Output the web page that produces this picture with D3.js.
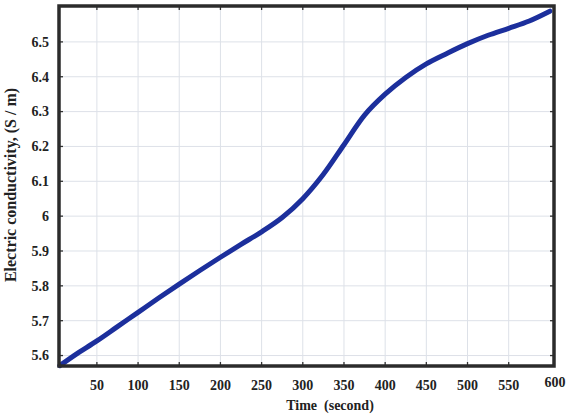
<!DOCTYPE html>
<html>
<head>
<meta charset="utf-8">
<script src="https://cdn.jsdelivr.net/npm/d3@7"></script>
<style>
html,body{margin:0;padding:0;background:#fff;}
svg{display:block;}
</style>
</head>
<body>
<svg id="chart" width="568" height="418"></svg>
<script>
const timeValues = [5, 25, 50, 75, 100, 125, 150, 175, 200, 225, 250, 275, 300, 325, 350, 375, 400, 425, 450, 475, 500, 525, 550, 575, 600];
const conductivity = [5.571, 5.604, 5.642, 5.683, 5.724, 5.765, 5.805, 5.844, 5.882, 5.919, 5.955, 5.996, 6.050, 6.120, 6.205, 6.290, 6.350, 6.398, 6.437, 6.467, 6.495, 6.519, 6.539, 6.560, 6.588];
const xTicks = [50, 100, 150, 200, 250, 300, 350, 400, 450, 500, 550, 600];
const yTicks = [5.6, 5.7, 5.8, 5.9, 6.0, 6.1, 6.2, 6.3, 6.4, 6.5];
const yTickLabels = ["5.6", "5.7", "5.8", "5.9", "6", "6.1", "6.2", "6.3", "6.4", "6.5"];
const xTitle = "Time  (second)";
const yTitle = "Electric conductivity, (S / m)";

const svg = d3.select("#chart");
const L = 59, R = 554, T = 6, B = 366;
const x = d3.scaleLinear().domain([4, 605]).range([L, R]);
const y = d3.scaleLinear().domain([5.570, 6.603]).range([B, T]);
const font = "'Liberation Serif', 'Times New Roman', serif";

// grid
const grid = svg.append("g");
grid.selectAll("line.vx").data(xTicks.filter(d => d < 600)).join("line")
  .attr("x1", d => x(d)).attr("x2", d => x(d)).attr("y1", T).attr("y2", B)
  .attr("stroke", "#dde1e8").attr("stroke-width", 1);
grid.selectAll("line.hy").data(yTicks).join("line")
  .attr("x1", L).attr("x2", R).attr("y1", d => y(d)).attr("y2", d => y(d))
  .attr("stroke", "#dde1e8").attr("stroke-width", 1);

// inner ticks on all sides
const tk = svg.append("g").attr("stroke", "#333").attr("stroke-width", 1.3);
xTicks.filter(d => d < 600).forEach(d => {
  tk.append("line").attr("x1", x(d)).attr("x2", x(d)).attr("y1", B).attr("y2", B - 4);
  tk.append("line").attr("x1", x(d)).attr("x2", x(d)).attr("y1", T).attr("y2", T + 4);
});
yTicks.forEach(d => {
  tk.append("line").attr("x1", L).attr("x2", L + 4).attr("y1", y(d)).attr("y2", y(d));
  tk.append("line").attr("x1", R).attr("x2", R - 4).attr("y1", y(d)).attr("y2", y(d));
});

// line
const line = d3.line().x((d, i) => x(timeValues[i])).y(d => y(d)).curve(d3.curveCatmullRom.alpha(0.5));
svg.append("path").datum(conductivity)
  .attr("d", line).attr("fill", "none")
  .attr("stroke", "#1c2f9c").attr("stroke-width", 5).attr("stroke-linecap", "round")
  .attr("stroke-linejoin", "round");

// frame
svg.append("rect").attr("x", L).attr("y", T).attr("width", R - L).attr("height", B - T)
  .attr("fill", "none").attr("stroke", "#2b2b2b").attr("stroke-width", 3.5);

// tick labels
svg.append("g").selectAll("text").data(yTicks).join("text")
  .attr("x", 49).attr("y", d => y(d)).attr("dy", "0.35em")
  .attr("text-anchor", "end").attr("font-family", font).attr("font-weight", "bold")
  .attr("font-size", 14).attr("fill", "#222")
  .text((d, i) => yTickLabels[i]);

svg.append("g").selectAll("text").data(xTicks).join("text")
  .attr("x", d => x(d) + (d === 600 ? 5 : 0)).attr("y", d => d === 600 ? 387 : 390)
  .attr("text-anchor", "middle").attr("font-family", font).attr("font-weight", "bold")
  .attr("font-size", 14).attr("fill", "#222")
  .text(d => d);

// axis titles
svg.append("text").attr("x", 330).attr("y", 410).attr("text-anchor", "middle")
  .attr("font-family", font).attr("font-weight", "bold").attr("font-size", 14).attr("fill", "#222")
  .attr("xml:space", "preserve").style("white-space", "pre")
  .text(xTitle);
svg.append("text").attr("transform", "translate(16,185) rotate(-90)").attr("text-anchor", "middle")
  .attr("font-family", font).attr("font-weight", "bold").attr("font-size", 16).attr("fill", "#222")
  .text(yTitle);
</script>
</body>
</html>
